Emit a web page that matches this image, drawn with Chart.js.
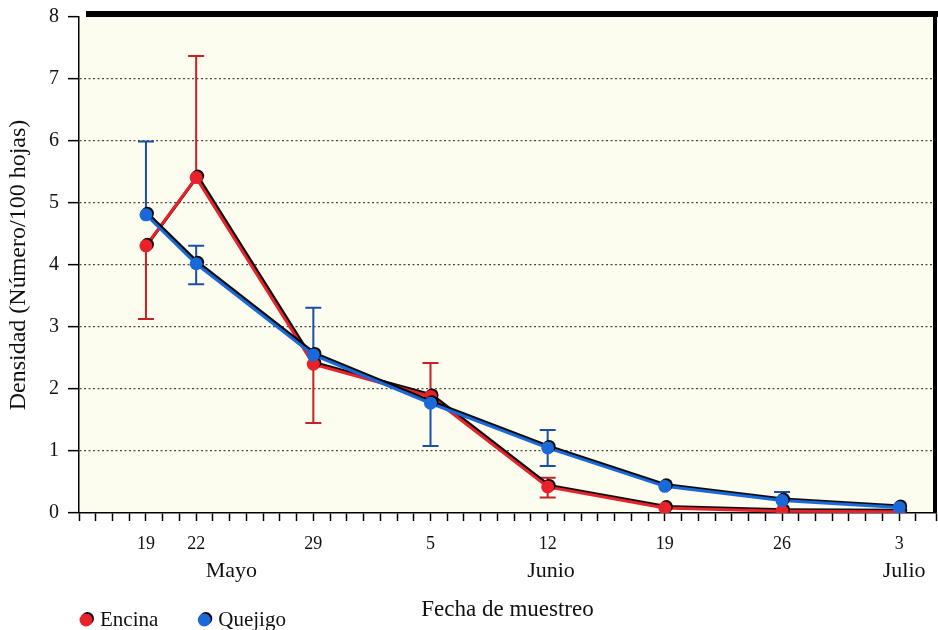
<!DOCTYPE html>
<html>
<head>
<meta charset="utf-8">
<script src="https://cdn.jsdelivr.net/npm/chart.js@4.4.1/dist/chart.umd.min.js"></script>
<style>
  html, body { margin: 0; padding: 0; background: #fff; }
  #wrap { width: 938px; height: 630px; }
</style>
</head>
<body>
<div id="wrap"><canvas id="myChart" width="938" height="630"></canvas></div>
<script>
// sample dates, as day counts from 1 May
var days = [19, 22, 29, 36, 43, 50, 57, 64];
var dayText = ['19', '22', '29', '5', '12', '19', '26', '3'];
var months = ['Mayo', 'Junio', 'Julio'];
var monthAt = [24.1, 43.2, 64.3];

// Encina
var encina = [4.31, 5.41, 2.40, 1.88, 0.42, 0.08, 0.03, 0.02];
var encinaHi = [null, 7.37, null, 2.42, 0.57, null, null, null];
var encinaLo = [3.13, null, 1.45, null, 0.25, null, null, null];

// Quejigo
var quejigo = [4.81, 4.02, 2.55, 1.77, 1.05, 0.43, 0.20, 0.09];
var quejigoHi = [5.99, 4.31, 3.31, null, 1.34, null, 0.34, null];
var quejigoLo = [null, 3.69, null, 1.08, 0.76, null, null, null];

var serif = "'Liberation Serif', 'DejaVu Serif', serif";

function toPoints(ys) {
  return days.map(function (d, i) { return { x: d, y: ys[i] }; });
}

// error bars, drawn under the lines
var errorBars = {
  id: 'errorBars',
  beforeDatasetsDraw: function (chart) {
    var ctx = chart.ctx;
    var xs = chart.scales.x, ys = chart.scales.y;
    chart.data.datasets.forEach(function (ds) {
      ctx.save();
      ctx.strokeStyle = ds.errColor;
      ctx.lineWidth = 2;
      days.forEach(function (d, i) {
        var px = xs.getPixelForValue(d);
        var py = ys.getPixelForValue(ds.data[i].y);
        [ds.hi[i], ds.lo[i]].forEach(function (v) {
          if (v === null) return;
          var pv = ys.getPixelForValue(v);
          ctx.beginPath();
          ctx.moveTo(px, py);
          ctx.lineTo(px, pv);
          ctx.moveTo(px - 8, pv);
          ctx.lineTo(px + 8, pv);
          ctx.stroke();
        });
      });
      ctx.restore();
    });
  }
};

// dark edge round the lines and dots
var edge = {
  id: 'edge',
  beforeDatasetDraw: function (chart) {
    var ctx = chart.ctx;
    ctx.save();
    ctx.shadowColor = 'rgba(0,0,0,0.95)';
    ctx.shadowBlur = 0;
    ctx.shadowOffsetX = 1.5;
    ctx.shadowOffsetY = -1.5;
  },
  afterDatasetDraw: function (chart) {
    chart.ctx.restore();
  }
};

// paper colour, thick frame, month names and legend
var frame = {
  id: 'frame',
  beforeDraw: function (chart) {
    var ctx = chart.ctx, a = chart.chartArea;
    ctx.save();
    ctx.fillStyle = '#fcfcef';
    ctx.fillRect(a.left, a.top, a.right - a.left, a.bottom - a.top);
    ctx.restore();
  },
  afterDraw: function (chart) {
    var ctx = chart.ctx, a = chart.chartArea, xs = chart.scales.x;
    ctx.save();
    ctx.fillStyle = '#000';
    ctx.fillRect(a.left + 7, a.top - 6, a.right - a.left - 5, 6);
    ctx.fillRect(a.right - 3, a.top - 6, 4, a.bottom - a.top + 6);

    ctx.font = '22px ' + serif;
    ctx.fillStyle = '#111';
    ctx.textAlign = 'center';
    ctx.textBaseline = 'middle';
    months.forEach(function (m, i) {
      ctx.fillText(m, xs.getPixelForValue(monthAt[i]), a.bottom + 58);
    });

    ctx.font = '21px ' + serif;
    ctx.textAlign = 'left';
    var lx = 86, ly = 620;
    chart.data.datasets.slice().reverse().forEach(function (ds) {
      ctx.save();
      ctx.shadowColor = '#000';
      ctx.shadowOffsetX = 1.5;
      ctx.shadowOffsetY = -1.5;
      ctx.fillStyle = ds.borderColor;
      ctx.beginPath();
      ctx.arc(lx, ly, 6.5, 0, Math.PI * 2);
      ctx.fill();
      ctx.restore();
      ctx.fillText(ds.label, lx + 14, ly);
      lx += 14 + ctx.measureText(ds.label).width + 46;
    });
    ctx.restore();
  }
};

var ctx = document.getElementById('myChart').getContext('2d');
var myChart = new Chart(ctx, {
  type: 'line',
  data: {
    datasets: [{
      label: 'Quejigo',
      data: toPoints(quejigo),
      hi: quejigoHi,
      lo: quejigoLo,
      errColor: '#1d4ea6',
      borderColor: '#1b68d8',
      backgroundColor: '#1b68d8',
      borderWidth: 3,
      pointRadius: 6.5,
      pointBorderWidth: 0,
      order: 1
    }, {
      label: 'Encina',
      data: toPoints(encina),
      hi: encinaHi,
      lo: encinaLo,
      errColor: '#c42126',
      borderColor: '#e8212a',
      backgroundColor: '#e8212a',
      borderWidth: 3,
      pointRadius: 6.5,
      pointBorderWidth: 0,
      order: 2
    }]
  },
  options: {
    responsive: false,
    animation: false,
    layout: {
      autoPadding: false,
      padding: { top: 17, right: 2, left: 0, bottom: 0 }
    },
    scales: {
      x: {
        type: 'linear',
        min: 15,
        max: 66.2,
        afterFit: function (s) {
          s.height = 117;
          s.paddingLeft = 0;
          s.paddingRight = 0;
        },
        grid: {
          drawOnChartArea: false,
          tickLength: 8,
          tickColor: '#000',
          tickWidth: 1.5
        },
        border: { color: '#000', width: 1.5 },
        ticks: {
          stepSize: 1,
          autoSkip: false,
          maxRotation: 0,
          padding: 12,
          color: '#111',
          font: { family: serif, size: 18 },
          callback: function (v) {
            var i = days.indexOf(Math.round(v));
            return (i >= 0 && Math.abs(v - days[i]) < 0.01) ? dayText[i] : '';
          }
        },
        title: {
          display: true,
          text: 'Fecha de muestreo',
          color: '#111',
          font: { family: serif, size: 23 },
          padding: { top: 0, bottom: 6 }
        }
      },
      y: {
        min: 0,
        max: 8,
        afterFit: function (s) {
          s.width = 79;
          s.paddingTop = 0;
          s.paddingBottom = 0;
        },
        grid: {
          tickLength: 11,
          tickColor: '#000',
          tickWidth: 1.5,
          lineWidth: 1.3,
          color: function (c) {
            var v = c.tick ? c.tick.value : 0;
            return (v > 0 && v < 8) ? '#4a4a4a' : 'rgba(0,0,0,0)';
          }
        },
        border: { color: '#000', width: 1.5, dash: [2, 2.5] },
        ticks: {
          stepSize: 1,
          padding: 9,
          color: '#111',
          font: { family: serif, size: 20 }
        },
        title: {
          display: true,
          text: 'Densidad (Número/100 hojas)',
          color: '#111',
          font: { family: serif, size: 24 },
          padding: { top: 4, bottom: 0 }
        }
      }
    },
    plugins: {
      legend: { display: false },
      tooltip: { enabled: false }
    }
  },
  plugins: [frame, errorBars, edge]
});
</script>
</body>
</html>
